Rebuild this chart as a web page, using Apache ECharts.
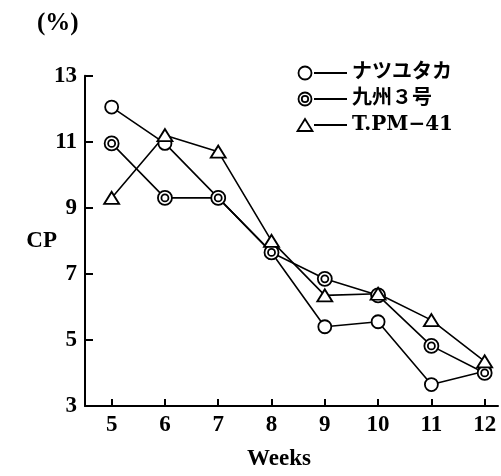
<!DOCTYPE html>
<html>
<head>
<meta charset="utf-8">
<script src="https://cdn.jsdelivr.net/npm/echarts@6/dist/echarts.min.js"></script>
<style>
html, body { margin: 0; padding: 0; background: #fff; }
#chart { width: 501px; height: 476px; }
</style>
</head>
<body>
<div id="chart"></div>
<script>
// データ
const weeks = [5, 6, 7, 8, 9, 10, 11, 12]
const yTicks = [3, 5, 7, 9, 11, 13]
const natsuyutaka = [12.05, 10.95, 9.3, 7.65, 5.4, 5.55, 3.65, 4.05]
const kyushu3 = [10.95, 9.3, 9.3, 7.65, 6.85, 6.35, 4.82, 4.0]
const tpm41 = [9.3, 11.2, 10.7, 8.0, 6.35, 6.4, 5.6, 4.35]
const seriesNames = ['ナツユタカ', '九州３号', 'T.PM−41']

const serif = '"Liberation Serif", "DejaVu Serif", serif'
const jpFont = '"DejaVu Serif", "Noto Sans CJK JP", serif'
const doubleCircle = 'path://M10,0A10,10,0,1,1,-10,0A10,10,0,1,1,10,0ZM5,0A5,5,0,1,1,-5,0A5,5,0,1,1,5,0Z'

const toPoints = (values) => weeks.map((w, i) => [w, values[i]])

const makeSeries = (name, values, symbol, symbolSize) => ({
  name,
  type: 'line',
  data: toPoints(values),
  symbol,
  symbolSize,
  showAllSymbol: true,
  lineStyle: { color: '#000', width: 1.6 },
  itemStyle: { color: '#fff', borderColor: '#000', borderWidth: 1.8 },
  emphasis: { disabled: true },
  z: 3
})

// 凡例（記号 ── 名前）
const legendRow = (y, shapes, label) => ({
  type: 'group',
  children: [
    ...shapes,
    { type: 'line', shape: { x1: 314, y1: y, x2: 347, y2: y }, style: { stroke: '#000', lineWidth: 1.8 } },
    {
      type: 'text', x: 352, y: y,
      style: { text: label, font: 'bold 20px ' + jpFont, fill: '#000', verticalAlign: 'middle' }
    }
  ]
})

const ringStyle = { fill: '#fff', stroke: '#000', lineWidth: 1.8 }

const chart = echarts.init(document.getElementById('chart'))
chart.setOption({
  animation: false,
  grid: { left: 85, right: 3, top: 75.7, bottom: 70 },
  xAxis: {
    type: 'value',
    min: 4.5,
    max: 12.25,
    name: 'Weeks',
    nameLocation: 'middle',
    nameGap: 42,
    nameTextStyle: { fontFamily: serif, fontWeight: 'bold', fontSize: 23, color: '#000', padding: [0, 25, 0, 0] },
    axisLine: { show: true, lineStyle: { color: '#000', width: 2 } },
    axisTick: { show: true, inside: true, length: 7, customValues: weeks, lineStyle: { color: '#000', width: 2 } },
    axisLabel: { customValues: weeks, margin: 8, fontFamily: serif, fontWeight: 'bold', fontSize: 23, color: '#000' },
    splitLine: { show: false }
  },
  yAxis: {
    type: 'value',
    min: 3,
    max: 13,
    name: 'CP',
    nameLocation: 'middle',
    nameRotate: 0,
    nameGap: 28,
    nameMoveOverlap: false,
    nameTextStyle: { fontFamily: serif, fontWeight: 'bold', fontSize: 23, color: '#000' },
    axisLine: { show: true, lineStyle: { color: '#000', width: 2 } },
    axisTick: { show: true, inside: true, length: 8, customValues: yTicks, lineStyle: { color: '#000', width: 2 } },
    axisLabel: { customValues: yTicks, margin: 8, fontFamily: serif, fontWeight: 'bold', fontSize: 23, color: '#000' },
    splitLine: { show: false }
  },
  series: [
    makeSeries(seriesNames[0], natsuyutaka, 'circle', 13),
    makeSeries(seriesNames[1], kyushu3, doubleCircle, 14),
    makeSeries(seriesNames[2], tpm41, 'triangle', [15, 12])
  ],
  graphic: [
    {
      type: 'text', left: 37, top: 11,
      style: { text: '(%)', font: 'bold 25px ' + serif, fill: '#000' }
    },
    legendRow(73, [
      { type: 'circle', shape: { cx: 305, cy: 73, r: 6.5 }, style: ringStyle }
    ], seriesNames[0]),
    legendRow(99, [
      { type: 'circle', shape: { cx: 305, cy: 99, r: 6.5 }, style: ringStyle },
      { type: 'circle', shape: { cx: 305, cy: 99, r: 3.2 }, style: ringStyle }
    ], seriesNames[1]),
    legendRow(125, [
      { type: 'polygon', shape: { points: [[305, 119], [312.5, 131], [297.5, 131]] }, style: ringStyle }
    ], seriesNames[2])
  ]
})
</script>
</body>
</html>
